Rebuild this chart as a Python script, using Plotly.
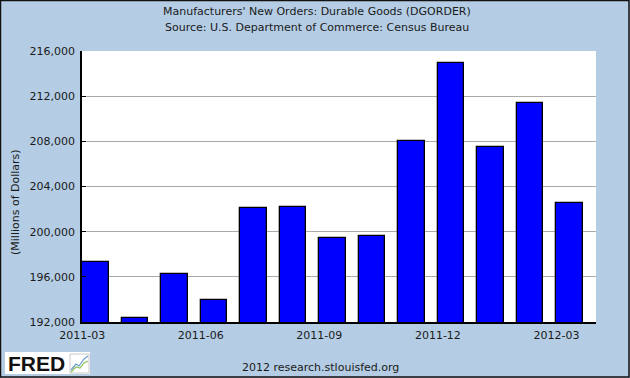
import plotly.graph_objects as go

# ---- data ----
months = ["2011-03", "2011-04", "2011-05", "2011-06", "2011-07", "2011-08", "2011-09",
          "2011-10", "2011-11", "2011-12", "2012-01", "2012-02", "2012-03"]
orders = [197300, 192330, 196220, 193920, 202070, 202160, 199410,
          199590, 208030, 214940, 207500, 211400, 202540]
tick_labels = ["2011-03", "2011-06", "2011-09", "2011-12", "2012-03"]
y_ticks = [192000, 196000, 200000, 204000, 208000, 212000, 216000]

W, H = 630, 378
L, R, T, B = 82, 34, 51, 56
pw, ph = W - L - R, H - T - B
n = len(months)
bw = 0.668

BG = "#B4CDE4"
FONT = "DejaVu Sans"
TXT = "#1a1a1a"
FS = 11

x_idx = list(range(n))
tick_vals = [months.index(t) for t in tick_labels]

fig = go.Figure(go.Bar(
    x=x_idx, y=orders, width=bw, offset=0,
    marker=dict(color="#0000FF", line=dict(color="black", width=1.3)),
    hovertext=months,
))

def px_x(p):  # pixel -> paper x
    return (p - L) / pw

def px_y(p):  # pixel -> paper y
    return 1 - (p - T) / ph

fig.update_layout(
    width=W, height=H,
    margin=dict(l=L, r=R, t=T, b=B, pad=0),
    paper_bgcolor=BG, plot_bgcolor="white",
    showlegend=False, bargap=0,
    font=dict(family=FONT, size=FS, color=TXT),
    xaxis=dict(
        range=[-0.004, n], automargin=False,
        tickvals=tick_vals, ticktext=tick_labels,
        ticks="", showgrid=False, zeroline=False,
        showline=True, linecolor="black", linewidth=1.5,
        tickfont=dict(size=FS, family=FONT, color=TXT),
        ticklabelstandoff=2,
    ),
    yaxis=dict(
        range=[192000, 216000], tickvals=y_ticks, tickformat=",d",
        automargin=False,
        ticks="inside", ticklen=4, tickcolor="black", tickwidth=1.3,
        showgrid=True, gridcolor="#AAAAAA", gridwidth=1, zeroline=False,
        showline=True, linecolor="black", linewidth=1.5,
        tickfont=dict(size=FS, family=FONT, color=TXT),
        ticklabelstandoff=3,
    ),
)

def note(text, x, y, **kw):
    d = dict(text=text, x=px_x(x), y=px_y(y), xref="paper", yref="paper",
             showarrow=False, xanchor="center", yanchor="middle",
             font=dict(size=FS, family=FONT, color=TXT))
    d.update(kw)
    return d

ann = [
    note("Manufacturers' New Orders: Durable Goods (DGORDER)", 317, 12),
    note("Source: U.S. Department of Commerce: Census Bureau", 317, 27),
    note("2012 research.stlouisfed.org", 320, 367),
    note("(Millions of Dollars)", 15, 202, textangle=-90),
    note("<b>FRED</b>", 6, 363, xanchor="left",
         font=dict(size=21, family="Liberation Sans", color="#111")),
]
fig.update_layout(annotations=ann)

shapes = []
# outer border
shapes.append(dict(type="rect", xref="paper", yref="paper",
                   x0=px_x(0.5), x1=px_x(629), y0=px_y(377), y1=px_y(0.5),
                   line=dict(color="#111", width=1.5), layer="above"))
# FRED logo box
shapes.append(dict(type="rect", xref="paper", yref="paper",
                   x0=px_x(5), x1=px_x(90), y0=px_y(374), y1=px_y(352),
                   fillcolor="white", line=dict(width=0), layer="below"))
# little chart icon
shapes.append(dict(type="path", xref="paper", yref="paper",
                   path=f"M {px_x(71)},{px_y(370)} L {px_x(76)},{px_y(364)} L {px_x(79)},{px_y(366)} L {px_x(84)},{px_y(359)} L {px_x(88)},{px_y(356)}",
                   line=dict(color="#6a9ad0", width=1.2)))
shapes.append(dict(type="path", xref="paper", yref="paper",
                   path=f"M {px_x(71)},{px_y(372)} L {px_x(76)},{px_y(367)} L {px_x(80)},{px_y(368)} L {px_x(84)},{px_y(363)} L {px_x(88)},{px_y(361)}",
                   line=dict(color="#8fbf5a", width=1.2)))
shapes.append(dict(type="rect", xref="paper", yref="paper",
                   x0=px_x(70), x1=px_x(89), y0=px_y(373), y1=px_y(354),
                   line=dict(color="#bbbbbb", width=0.8)))
fig.update_layout(shapes=shapes)

fig.write_html("out.html", config={"displayModeBar": False},
               post_script="document.body.style.margin='0px';document.body.style.overflow='hidden';")
